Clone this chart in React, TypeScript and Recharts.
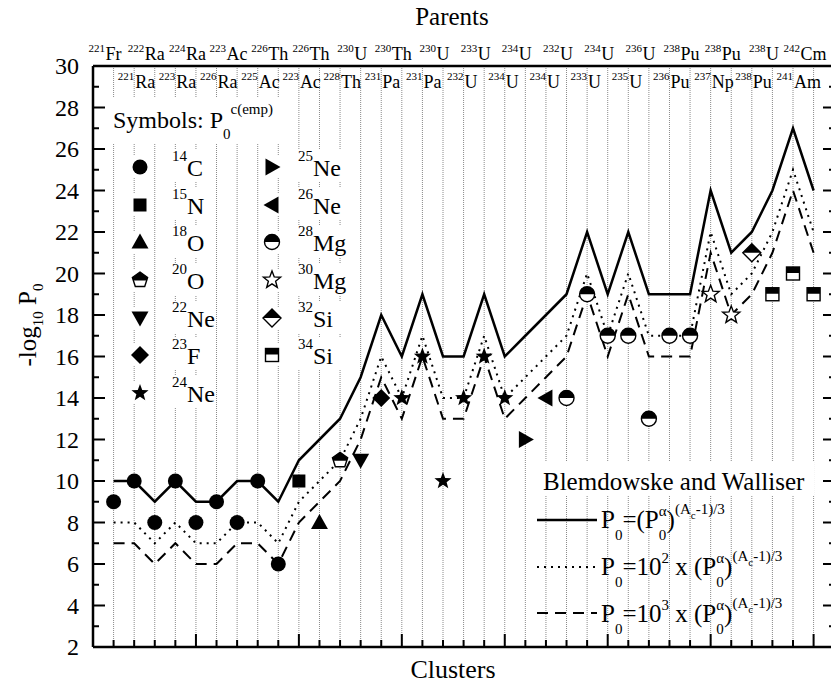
import React from "react";
import { ComposedChart, Line, Scatter, XAxis, YAxis, CartesianGrid } from "recharts";

const SERIF = "Liberation Serif, DejaVu Serif, Times New Roman, serif";

// ── data ──
const parents = [
  "221Fr", "221Ra", "222Ra", "223Ra", "224Ra", "226Ra", "223Ac", "225Ac", "226Th",
  "223Ac", "226Th", "228Th", "230U", "231Pa", "230Th", "231Pa", "230U", "232U",
  "233U", "234U", "234U", "234U", "232U", "233U", "234U", "235U", "236U",
  "236Pu", "238Pu", "237Np", "238Pu", "238Pu", "238U", "241Am", "242Cm",
];
const clusters = [
  "14C", "14C", "14C", "14C", "14C", "14C", "14C", "14C", "14C",
  "15N", "18O", "20O", "22Ne", "23F",
  "24Ne", "24Ne", "24Ne", "24Ne", "24Ne", "24Ne",
  "25Ne", "26Ne",
  "28Mg", "28Mg", "28Mg", "28Mg", "28Mg", "28Mg", "28Mg",
  "30Mg", "30Mg", "32Si", "34Si", "34Si", "34Si",
];
const empValues = [9, 10, 8, 10, 8, 9, 8, 10, 6, 10, 8, 11, 11, 14, 14, 16, 10, 14, 16, 14, 12, 14, 14, 19, 17, 17, 13, 17, 17, 19, 18, 21, 19, 20, 19];
const solidValues = [10, 10, 9, 10, 9, 9, 10, 10, 9, 11, 12, 13, 15, 18, 16, 19, 16, 16, 19, 16, 17, 18, 19, 22, 19, 22, 19, 19, 19, 24, 21, 22, 24, 27, 24];
const dottedValues = [8, 8, 7, 8, 7, 7, 8, 8, 7, 9, 10, 11, 13, 16, 14, 17, 14, 14, 17, 14, 15, 16, 17, 20, 17, 20, 17, 17, 17, 22, 19, 20, 22, 25, 22];
const dashedValues = [7, 7, 6, 7, 6, 6, 7, 7, 6, 8, 9, 10, 12, 15, 13, 16, 13, 13, 16, 13, 14, 15, 16, 19, 16, 19, 16, 16, 16, 21, 18, 19, 21, 24, 21];

const legendCol1 = [
  ["14", "C", "circle"],
  ["15", "N", "square"],
  ["18", "O", "triUp"],
  ["20", "O", "pentagon"],
  ["22", "Ne", "triDown"],
  ["23", "F", "diamond"],
  ["24", "Ne", "star"],
];
const legendCol2 = [
  ["25", "Ne", "triRight"],
  ["26", "Ne", "triLeft"],
  ["28", "Mg", "halfCircle"],
  ["30", "Mg", "starOpen"],
  ["32", "Si", "halfDiamond"],
  ["34", "Si", "halfSquare"],
];

const kindOf: Record<string, string> = {};
[...legendCol1, ...legendCol2].forEach(([m, e, k]) => (kindOf[m + e] = k));

const rows = parents.map((p, i) => ({
  x: i,
  parent: p,
  cluster: clusters[i],
  emp: empValues[i],
  solid: solidValues[i],
  dotted: dottedValues[i],
  dashed: dashedValues[i],
}));

// plot box
const PL = 93;
const PT = 66;
const PR = 835;
const PB = 647;
const X_MAX = 35.04;
const W = 838;
const H = 687;

const xTicks = Array.from({ length: 36 }, (_, i) => i - 1);
const catTicks = parents.map((_, i) => i);
const yTicks = Array.from({ length: 29 }, (_, i) => i + 2);

const serif = { fontFamily: SERIF };

// ── markers ──
const pts = (list: number[][], cx: number, cy: number) =>
  list.map(([a, b]) => `${cx + a},${cy + b}`).join(" ");

const starPts = (cx: number, cy: number, R: number, r: number) => {
  const out: string[] = [];
  for (let i = 0; i < 10; i++) {
    const ang = -Math.PI / 2 + (i * Math.PI) / 5;
    const rad = i % 2 === 0 ? R : r;
    out.push(`${cx + rad * Math.cos(ang)},${cy + rad * Math.sin(ang)}`);
  }
  return out.join(" ");
};

function Marker({ kind, cx, cy }: { kind: string; cx: number; cy: number }) {
  const k = "#000";
  switch (kind) {
    case "circle":
      return <circle cx={cx} cy={cy} r={7.5} fill={k} />;
    case "square":
      return <rect x={cx - 6.5} y={cy - 6.5} width={13} height={13} fill={k} />;
    case "triUp":
      return <polygon points={pts([[0, -8.5], [8.5, 6.5], [-8.5, 6.5]], cx, cy)} fill={k} />;
    case "triDown":
      return <polygon points={pts([[0, 8.5], [8.5, -6.5], [-8.5, -6.5]], cx, cy)} fill={k} />;
    case "triRight":
      return <polygon points={pts([[8.5, 0], [-6.5, -8.5], [-6.5, 8.5]], cx, cy)} fill={k} />;
    case "triLeft":
      return <polygon points={pts([[-8.5, 0], [6.5, -8.5], [6.5, 8.5]], cx, cy)} fill={k} />;
    case "diamond":
      return <polygon points={pts([[0, -9], [9, 0], [0, 9], [-9, 0]], cx, cy)} fill={k} />;
    case "star":
      return <polygon points={starPts(cx, cy, 9, 3.8)} fill={k} />;
    case "starOpen":
      return <polygon points={starPts(cx, cy, 9, 3.8)} fill="#fff" stroke={k} strokeWidth={1.4} />;
    case "pentagon": {
      const r = 8;
      return (
        <g>
          <polygon
            points={pts([[0, -r], [0.951 * r, -0.309 * r], [0.588 * r, 0.809 * r], [-0.588 * r, 0.809 * r], [-0.951 * r, -0.309 * r]], cx, cy)}
            fill="#fff" stroke={k} strokeWidth={1.4}
          />
          <polygon
            points={pts([[0, -r], [0.951 * r, -0.309 * r], [0.85 * r, 0.05 * r], [-0.85 * r, 0.05 * r], [-0.951 * r, -0.309 * r]], cx, cy)}
            fill={k}
          />
        </g>
      );
    }
    case "halfCircle":
      return (
        <g>
          <circle cx={cx} cy={cy} r={7.5} fill="#fff" stroke={k} strokeWidth={1.4} />
          <path d={`M${cx - 7.5},${cy} A7.5,7.5 0 0 1 ${cx + 7.5},${cy} Z`} fill={k} />
        </g>
      );
    case "halfDiamond":
      return (
        <g>
          <polygon points={pts([[0, -9], [9, 0], [0, 9], [-9, 0]], cx, cy)} fill="#fff" stroke={k} strokeWidth={1.4} />
          <polygon points={pts([[0, -9], [9, 0], [-9, 0]], cx, cy)} fill={k} />
        </g>
      );
    case "halfSquare":
      return (
        <g>
          <rect x={cx - 6.5} y={cy - 6.5} width={13} height={13} fill="#fff" stroke={k} strokeWidth={1.4} />
          <rect x={cx - 6.5} y={cy - 6.5} width={13} height={6} fill={k} />
        </g>
      );
    default:
      return null;
  }
}

// ── ticks ──
const CW: Record<string, number> = {
  F: 0.556, r: 0.333, R: 0.667, a: 0.444, A: 0.722, c: 0.444, T: 0.611, h: 0.5,
  U: 0.722, P: 0.556, N: 0.722, p: 0.5, C: 0.667, m: 0.778, u: 0.5,
};
const textW = (s: string, fs: number) => s.split("").reduce((w, ch) => w + (CW[ch] ?? 0.5), 0) * fs;

function ParentTick(p: any) {
  const i = p.payload.value as number;
  const label = parents[i];
  if (!label) return <g />;
  const mass = label.match(/^\d+/)![0];
  const el = label.slice(mass.length);
  const x = p.x;
  if (i % 2 === 0) {
    const w = textW(el, 18);
    return (
      <g style={serif} fill="#000">
        <text x={x - w / 2 - 0.5} y={52} fontSize={11} textAnchor="end" style={serif}>{mass}</text>
        <text x={x} y={60} fontSize={18} textAnchor="middle" style={serif}>{el}</text>
      </g>
    );
  }
  return (
    <g style={serif} fill="#000">
      <text x={x} y={80} fontSize={11} textAnchor="end" style={serif}>{mass}</text>
      <text x={x + 1} y={88} fontSize={18} textAnchor="start" style={serif}>{el}</text>
    </g>
  );
}

function BottomTick(p: any) {
  const v = p.payload.value as number;
  const major = (v + 1) % 5 === 0;
  return <line x1={p.x} x2={p.x} y1={PB} y2={PB - (major ? 13 : 7)} stroke="#000" strokeWidth={2} />;
}

function LeftTick(p: any) {
  const v = p.payload.value as number;
  const major = v % 2 === 0;
  return (
    <g>
      <line x1={PL} x2={PL + (major ? 12 : 6)} y1={p.y} y2={p.y} stroke="#000" strokeWidth={2} />
      {major && (
        <text x={79} y={p.y} dy="0.35em" textAnchor="end" style={serif} fontSize={24} fill="#000">
          {v}
        </text>
      )}
    </g>
  );
}

function RightTick(p: any) {
  const v = p.payload.value as number;
  const major = v % 2 === 0;
  return <line x1={PR - (major ? 12 : 6)} x2={PR} y1={p.y} y2={p.y} stroke="#000" strokeWidth={2} />;
}

// ── rich text helper ──
type Seg = { t: string; dy?: number; dx?: number; fs?: number };
function Rich({ x, y, fs, segs }: { x: number; y: number; fs: number; segs: Seg[] }) {
  return (
    <text x={x} y={y} style={serif} fontSize={fs} fill="#000">
      {segs.map((s, i) => (
        <tspan key={i} y={y + (s.dy ?? 0)} dx={s.dx} fontSize={s.fs ?? fs}>
          {s.t}
        </tspan>
      ))}
    </text>
  );
}

const formula = (pre: Seg[]): Seg[] => [
  { t: "P" },
  { t: "0", dy: 12, fs: 15 },
  ...pre,
  { t: "0", dy: 12, fs: 15 },
  { t: "α", dy: -12, dx: -7.5, fs: 15 },
  { t: ")" },
  { t: "(A", dy: -14, fs: 15 },
  { t: "c", dy: -9, fs: 11 },
  { t: "-1)/3", dy: -14, fs: 15 },
];

function Overlay() {
  const rowY = [167, 205, 242, 280, 318, 355, 393];
  return (
    <svg width={831} height={687} style={{ position: "absolute", left: 0, top: 0, pointerEvents: "none" }}>
      {/* titles */}
      <text x={452} y={25} textAnchor="middle" style={serif} fontSize={25}>Parents</text>
      <text x={453} y={678} textAnchor="middle" style={serif} fontSize={26}>Clusters</text>
      <g transform="translate(36,325) rotate(-90)">
        <text x={0} y={0} textAnchor="middle" style={serif} fontSize={25}>
          <tspan>-log</tspan>
          <tspan dy={7} fontSize={15}>10</tspan>
          <tspan dy={-7}>{"\u00a0P"}</tspan>
          <tspan dy={7} fontSize={15}>0</tspan>
        </text>
      </g>

      {/* symbols legend */}
      <rect x={108} y={98} width={178} height={46} fill="#fff" />
      <Rich x={113} y={128} fs={24} segs={[{ t: "Symbols:\u00a0P" }, { t: "0", dy: 11, fs: 15 }, { t: "c(emp)", dy: -14, fs: 15 }]} />
      {legendCol1.map(([m, e, k], i) => (
        <g key={"a" + i}>
          <rect x={128} y={rowY[i] - 11} width={24} height={22} fill="#fff" />
          <rect x={166} y={rowY[i] - 17} width={48} height={32} fill="#fff" />
          <Marker kind={k} cx={140} cy={rowY[i]} />
          <Rich x={172} y={rowY[i] + 9} fs={24} segs={[{ t: m, dy: -15, fs: 15 }, { t: e }]} />
        </g>
      ))}
      {legendCol2.map(([m, e, k], i) => (
        <g key={"b" + i}>
          <rect x={260} y={rowY[i] - 11} width={24} height={22} fill="#fff" />
          <rect x={292} y={rowY[i] - 17} width={62} height={32} fill="#fff" />
          <Marker kind={k} cx={272} cy={rowY[i]} />
          <Rich x={298} y={rowY[i] + 9} fs={24} segs={[{ t: m, dy: -15, fs: 15 }, { t: e }]} />
        </g>
      ))}

      {/* model legend */}
      <rect x={538} y={462} width={276} height={34} fill="#fff" />
      <text x={543} y={490} style={serif} fontSize={25}>Blemdowske and Walliser</text>
      <line x1={537} x2={597} y1={520} y2={520} stroke="#000" strokeWidth={2.5} />
      <line x1={537} x2={597} y1={567} y2={567} stroke="#000" strokeWidth={2} strokeDasharray="2 5" />
      <line x1={537} x2={597} y1={613} y2={613} stroke="#000" strokeWidth={2} strokeDasharray="11 7" />
      <Rich x={601} y={528} fs={25} segs={formula([{ t: "=(P" }])} />
      <Rich x={601} y={575} fs={25} segs={formula([{ t: "=10" }, { t: "2", dy: -12, fs: 15 }, { t: "\u00a0x\u00a0(P" }])} />
      <Rich x={601} y={622} fs={25} segs={formula([{ t: "=10" }, { t: "3", dy: -12, fs: 15 }, { t: "\u00a0x\u00a0(P" }])} />
    </svg>
  );
}

export default function App() {
  return (
    <div style={{ position: "relative", width: 831, height: 687, overflow: "hidden", background: "#fff" }}>
      <style>{"body{margin:0}"}</style>
      <ComposedChart width={W} height={H} data={rows} margin={{ top: PT - 1, right: W - PR - 1, bottom: H - PB - 1, left: PL - 1 }}>
        <CartesianGrid xAxisId="b" yAxisId="l" horizontal={false} stroke="#8a8a8a" strokeDasharray="1 1" />
        <XAxis
          xAxisId="b" dataKey="x" type="number" domain={[-1, X_MAX]} allowDataOverflow
          ticks={xTicks} interval={0} height={1}
          axisLine={{ stroke: "#000", strokeWidth: 2.5 }} tickLine={false} tick={(p: any) => <BottomTick {...p} />}
        />
        <XAxis
          xAxisId="t" orientation="top" dataKey="x" type="number" domain={[-1, X_MAX]} allowDataOverflow
          ticks={catTicks} interval={0} height={1}
          axisLine={{ stroke: "#000", strokeWidth: 2.5 }} tickLine={false} tick={(p: any) => <ParentTick {...p} />}
        />
        <YAxis
          yAxisId="l" type="number" domain={[2, 30]} allowDataOverflow ticks={yTicks} interval={0} width={1}
          axisLine={{ stroke: "#000", strokeWidth: 2.5 }} tickLine={false} tick={(p: any) => <LeftTick {...p} />}
        />
        <YAxis
          yAxisId="r" orientation="right" type="number" domain={[2, 30]} allowDataOverflow ticks={yTicks} interval={0} width={1}
          axisLine={{ stroke: "#000", strokeWidth: 2.5 }} tickLine={false} tick={(p: any) => <RightTick {...p} />}
        />
        <Line xAxisId="b" yAxisId="l" type="linear" dataKey="solid" stroke="#000" strokeWidth={2.5} dot={false} activeDot={false} isAnimationActive={false} />
        <Line xAxisId="b" yAxisId="l" type="linear" dataKey="dotted" stroke="#000" strokeWidth={2} strokeDasharray="2 5" dot={false} activeDot={false} isAnimationActive={false} />
        <Line xAxisId="b" yAxisId="l" type="linear" dataKey="dashed" stroke="#000" strokeWidth={2} strokeDasharray="11 7" dot={false} activeDot={false} isAnimationActive={false} />
        <Scatter
          xAxisId="b" yAxisId="l" dataKey="emp" isAnimationActive={false}
          shape={(p: any) => <Marker kind={kindOf[p.payload.cluster]} cx={p.cx} cy={p.cy} />}
        />
      </ComposedChart>
      <Overlay />
    </div>
  );
}
